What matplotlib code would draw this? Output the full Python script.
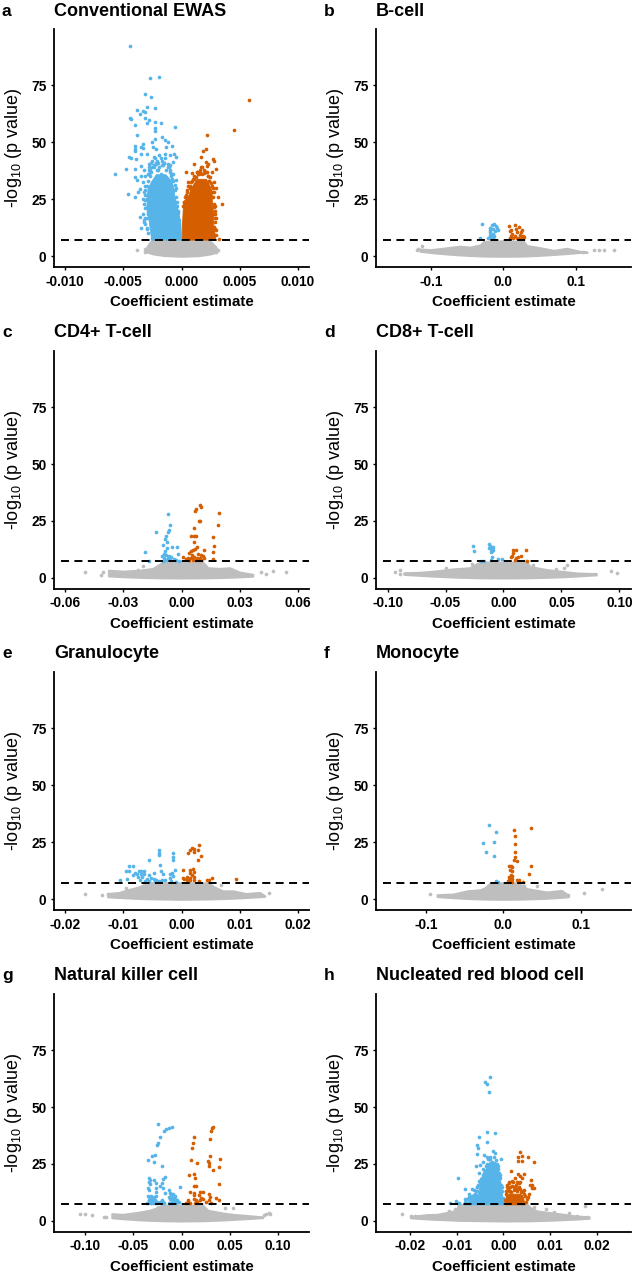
# volcano plots, one per cell type
import matplotlib
matplotlib.use("Agg")
import matplotlib.pyplot as plt

plt.rcParams['font.family'] = ['Liberation Sans', 'DejaVu Sans']
plt.rcParams['mathtext.default'] = 'regular'

BLUE = "#56B4E9"
ORANGE = "#D55E00"
GREY = "#BEBEBE"
THRESHOLD = 7.3

y_ticks = [0, 25, 50, 75]

# ---- a: Conventional EWAS
a_ticks = [-0.010, -0.005, 0.000, 0.005, 0.010]
a_ticklabels = ["-0.010", "-0.005", "0.000", "0.005", "0.010"]
a_down_x = [-.0044,-.0027,-.0019,-.0031,-.0026,-.0038,-.0023,-.003,-.0033,-.0031,-.0036,-.0044,-.0043,-.0031,-.00275,-.004,-.003,-.0023,-.00175,-.00055,-.0023,-.0023,-.0038,-.0017,-.0023,
            -.004,-.004,-.00395,-.0033,-.0035,-.0033,-.0025,-.00246,-.0022,-.0014,-.0012,-.0008,-.0013,-.0014,-.0045,-.0043,-.0039,-.003,-.0035,-.0024,-.0019,-.001,-.00066,-.00046,-.00074,-.0012,-.001,-.0016,-.0022,-.00275,-.0035,-.0048,-.0057,-.004,-.004,-.0035,-.0032,-.0029,-.0038,-.0033,-.00074,-.001,-.00046,-.0006,-.00455,-.004,-.0036,-.0037,-.0031,-.0033,-.0036,-.0032,-.0035,-.003,-.003,-.0031,-.0029,-.0025,
            -.0026,-.0021,-.0018,-.0015,-.0028,-.0024,-.002,-.0011,-.0027,-.0018,-.0014,-.0009,-.0031,-.0030,-.0029,-.0031,-.0007,-.0005,-.0004,-.0003,
            -.0029,-.0030,-.0031,-.0032,-.0030,-.0029,-.0031,-.0032,-.0033,-.0030,-.0028,-.0031,-.0029,-.0030,-.0032,-.0031,-.0028,-.0027,-.0026,-.0025,-.0024,-.0022,-.0021,-.0019,-.0017,-.0015,-.0013,-.0012,-.0010,-.0009,-.0008,-.0007,-.0006,-.0005,-.0006,-.0004,-.0003,-.0002,-.0025,-.0023,-.0020,-.0017,-.0014,-.0028,-.0027]
a_down_y = [92.2,78,78.5,71,69.7,64.3,65,65.5,63.7,63.3,62.5,60.8,60.4,60.8,59.8,57.5,58.6,58.9,58.6,56.9,56.1,55,53.2,52.2,51.6,
            48.4,47.2,46.3,49.4,48,47.7,50,48,47.2,50.9,50.1,48.4,48,45,43.7,43,42.7,45,44.7,43.6,44.3,44.3,45,43.6,41.4,40.6,40,40,40.6,40.6,39.6,38.3,36.1,38.4,34.8,35.2,37.7,36.3,33.3,32.6,36.3,37.7,33.3,31.1,27.5,26,29.7,28.2,29,18.7,17.3,15,12.4,12.4,21.6,24.6,18.7,8.2,
            41,42,43,41,38,39,38,39,35,36,35,36,27,25,20,17,29,26,24,20,
            10,12,14,16,17,19,21,23,25,27,29,31,33,31,28,35,36,38,37,39,40,41,38,39,40,41,38,39,37,35,34,33,29,30,24,22,19,16,42,43,41,42,43,39,37]
a_up_x = [.00576,.0045,.0022,.0021,.00186,.00166,.0027,.0028,.0021,.0023,.0022,.00106,.003,.0004,.00155,.0026,.0009,.0019,.00126,.00246,.0006,.0008,.0028,.003,.0031,.00347,.0028,.0028,.0029,.003,.003,.0032,
          .0004,.0002,.0007,.0011,.0016,.0023,.0026,.0028,.0029,.0029,.0029,.0005,.0013,.0018,.0024,
          .0027,.0028,.0029,.0030,.0029,.0028,.0027,.0026,.0027,.0025,.0024,.0023,.0021,.0019,.0017,.0015,.0013,.0011,.0009,.0007,.0005,.0003,.0002,.0001,.0003,.0006,.0010,.0014,.0018,.0022]
a_up_y = [68.6,55.6,53.4,47.2,46.3,43.6,42.7,41.8,41.5,40.6,39.6,40.5,38.5,37.1,37.1,37,36.6,36.7,34.8,34.8,32.6,32.6,32.6,30,26,23,21.6,18.7,18.7,11.4,9.2,7.6,
          27,24,31,34,38,35,31,28,22,17,12,29,37,36,33,
          10,13,15,17,20,23,26,28,30,32,33,35,37,38,39,36,37,35,33,30,28,26,24,22,20,31,34,36,39,37]
a_ns_x = [-.0038,-.0031,-.0031,-.0026,.003,.003,.0031,.0029,-.0028]
a_ns_y = [2.9,3.4,1.9,5.8,3.4,1.9,2.6,4.2,4.6]
a_lens_x = [-.0031,-.0028,-.0026,-.0024,-.0015,0,.0015,.0022,.0026,.0030]
a_lens_top = [3,5.5,6.8,7.3,7.3,7.3,7.3,7.3,6,3.5]
a_lens_bot = [2,1.6,1.3,1,.35,0,.3,.8,1.2,1.8]
a_dcore_y = [7.3,15,22,26,30,33,36]
a_dcore_l = [-.0026,-.0028,-.0030,-.0030,-.0029,-.0026,-.0022]
a_dcore_r = [-.00003,-.0001,-.0004,-.0006,-.0007,-.00085,-.0014]
a_ucore_y = [7.3,15,20,24,27,30,34]
a_ucore_l = [.00003,.00005,.0001,.00015,.0006,.0008,.0013]
a_ucore_r = [.0029,.0027,.0027,.0026,.0026,.0025,.0021]

# ---- b: B-cell
b_ticks = [-0.1, 0.0, 0.1]
b_ticklabels = ["-0.1", "0.0", "0.1"]
b_down_x = [-.029,-.033,-.0128,-.016,-.011,-.018,-.009,-.0138,-.018,-.007,-.012,-.018,-.014,-.018,-.013,-.019,-.015,-.021,-.014]
b_down_y = [14.2,8,14.3,13.6,13.2,12.4,12.4,12,11.4,11.4,11,10.5,9.9,9.5,9.1,8.5,8.5,8,8]
b_up_x = [.0078,.016,.0216,.01,.0174,.025,.009,.019,.024,.0115,.023,.0266,.0106,.016,.0284,.009,.018,.013,.022,.025]
b_up_y = [13.5,13.9,12.7,11.7,12,11.7,11,10.8,10.5,9.9,9.5,9.1,9.1,8.8,8.5,8.2,8.2,8,8,8]
b_ns_x = [-.112,-.117,.124,.131,.1385,.152,.11,-.119]
b_ns_y = [4.7,3.2,2.6,2.6,2.9,2.9,2,2.6]
b_lens_x = [-.115,-.101,-.092,-.069,-.06,-.046,-.032,-.0275,0,.0275,.032,.046,.069,.087,.105,.115]
b_lens_top = [3.2,2.9,3.2,4.1,4.4,4,5,6.5,6.8,6.5,4.7,4,2.6,3.5,2.2,1.8]
b_lens_bot = [2.2,1.7,1.4,.8,.6,.35,.17,.12,0,.12,.17,.35,.8,1.2,1.7,1.8]

# ---- c: CD4+ T-cell
c_ticks = [-0.06, -0.03, 0.00, 0.03, 0.06]
c_ticklabels = ["-0.06", "-0.03", "0.00", "0.03", "0.06"]
c_down_x = [-.0072,-.006,-.013,-.0065,-.0072,-.0079,-.0084,-.0074,-.0098,-.005,-.0074,-.0024,-.0188,-.0084,-.0017,-.009,-.0079,-.0103,-.0062,-.0088,-.007,-.0052,-.0169,-.0096,-.0079,-.0059,-.0041,-.0028,-.0015]
c_down_y = [28.2,23.4,20.2,21.2,20.2,18.4,17,16,14.6,13.6,13.2,13.5,11.5,11.7,10.7,10.4,9.9,9.8,9.5,8.9,8.8,9.2,7.5,7.6,8,8,8.5,8,7.6]
c_up_x = [.0093,.01,.0076,.007,.0196,.0088,.0095,.019,.0064,.0048,.0065,.0074,.0162,.0065,.0167,.0079,.0072,.0059,.0115,.0048,.0165,.0041,.0086,.0101,.0055,.011,.0114,.0162,.0007,.0034,.005,.0067,.0081,.0093,.0103,.0024,.0041,.0059,.0076,.009]
c_up_y = [32.2,31.3,30.4,29.4,28.4,24.9,25,23.2,21.8,18.6,18.6,18.4,17.8,15.9,14.2,13.5,12.7,12.4,12.4,11.7,11.3,11,10.7,9.9,9.9,9.5,8.8,8.3,9.2,8.9,8.9,9.2,8.9,8.9,8,8.3,8,8,8,8]
c_ns_x = [-.0496,-.0418,-.0405,-.02,-.0225,.047,.054,.0437,.041]
c_ns_y = [2.6,1.5,2.6,5.1,3.7,3,2.5,1.6,2.5]
c_lens_x = [-.0377,-.03,-.0217,-.0148,-.0122,-.0096,0,.011,.0136,.0196,.0248,.03,.0368]
c_lens_top = [3.4,3,3.4,4.2,5.6,7,7,7,4.5,4.2,4.5,2.6,1.6]
c_lens_bot = [.9,.55,.3,.14,.1,.06,0,.07,.1,.2,.33,.5,.8]

# ---- d: CD8+ T-cell
d_ticks = [-0.10, -0.05, 0.00, 0.05, 0.10]
d_ticklabels = ["-0.10", "-0.05", "0.00", "0.05", "0.10"]
d_down_x = [-.0261,-.0256,-.0126,-.0115,-.0129,-.0092,-.0109,-.0098,-.0112,-.0089,-.0095,-.0109,-.0046,-.0009,-.0195,-.0172]
d_down_y = [14.2,11.8,14.9,14,13.2,13.6,12.9,11.8,11.3,12.1,9.2,8,8.2,8.2,7.6,7.6]
d_up_x = [.0195,.008,.0109,.0086,.0149,.0069,.0121,.0106,.01,.0204,.0072]
d_up_y = [12.4,12.3,12.3,11.1,9.6,9,9,8.8,7.7,7.6,9.8]
d_ns_x = [-.0937,-.0897,-.0897,-.05,-.027,.0253,.055,.052,.045,.0928,.0977,.079]
d_ns_y = [2.6,3.4,1.6,4.5,6,5.8,5.6,4.4,3.8,2.9,2,1.9]
d_lens_x = [-.086,-.072,-.06,-.043,-.029,-.023,-.02,0,.02,.023,.037,.049,.063,.08]
d_lens_top = [2.3,2.5,3,4,4.5,6.3,7,7,7,5,3.7,3,2.2,1.9]
d_lens_bot = [1.6,1.15,.8,.4,.2,.12,.09,0,.09,.12,.3,.5,.85,1.4]

# ---- e: Granulocyte
e_ticks = [-0.02, -0.01, 0.00, 0.01, 0.02]
e_ticklabels = ["-0.02", "-0.01", "0.00", "0.01", "0.02"]
e_down_x = [-.0039,-.0039,-.0015,-.0039,-.0055,-.0015,-.0015,-.0037,-.0091,-.0084,-.0095,-.0091,-.0073,-.0069,-.0064,-.008,-.0076,-.0069,-.0065,-.0055,-.0048,-.0035,-.0032,-.0012,-.0016,-.0019,-.0015,-.002,-.0084,-.0075,-.0067,-.006,-.0052,-.0048,-.0043,-.0033,-.0028,-.0106,-.0094,-.0072,-.0062,-.0055,-.0046,-.0038,-.0018,-.0009]
e_down_y = [21.5,20.5,20.2,19.3,17.4,18.6,17.3,15.2,14.6,14.5,12.6,12.4,12.3,12.4,12.4,11.7,11,11.2,11.2,10.5,11.5,12.3,11.3,13,11.7,11,10.2,9.5,10.5,9.8,9.8,9,9.5,9,8.6,8.3,8.6,8.3,8.8,8.3,7.9,7.9,7.9,7.9,7.9,7.6]
e_up_x = [.003,.0018,.0015,.0021,.0029,.0011,.0022,.0033,.0029,.0002,.0014,.0019,.0015,.0022,.0018,.0003,.0009,.0015,.0021,.0009,.0015,.0022,.003,.0044,.0052,.0048,.0094,.0005]
e_up_y = [23.8,22.7,21.5,21.9,21.8,20.5,20.8,19.2,17.3,12.7,13,13.2,11.6,12,10.5,9.4,9.8,9.5,9.8,8.6,8.3,8.6,8,8.3,9.5,8.6,8.9,8.9]
e_ns_x = [-.0165,-.0137,-.0127,-.0095,.015,.0138,.0068,.0054,.009]
e_ns_y = [2.3,1.9,2.3,5,2.6,2,6.1,4.7,3.1]
e_lens_x = [-.0127,-.0107,-.0092,-.0078,-.0067,-.0061,0,.0048,.0054,.0071,.0088,.0111,.0134,.0143]
e_lens_top = [2.5,3,4.2,5.1,6.1,7.3,7.3,7.2,5.7,3.7,3.7,2.5,3,1.5]
e_lens_bot = [1.1,.8,.6,.42,.3,.25,0,.15,.2,.33,.5,.8,1.15,1.3]

# ---- f: Monocyte
f_ticks = [-0.1, 0.0, 0.1]
f_ticklabels = ["-0.1", "0.0", "0.1"]
f_down_x = [-.0194,-.0095,-.0259,-.0125,-.0224,-.0129,-.0103,-.0073]
f_down_y = [32.7,29.7,24.6,25.1,20.8,19,8,7.5]
f_up_x = [.0353,.0134,.0155,.0147,.0151,.0147,.0138,.0177,.0065,.0099,.0116,.0353,.0086,.0108,.0328,.0095,.0112,.0065,.0086,.0112,.0065,.0095,.0172,.0203,.0052,.0108,.0246]
f_up_y = [31.3,30.3,27.6,24.3,20.6,18.6,17.4,16.7,14.5,14.5,14.3,14.5,12.7,12.4,11.3,10.5,10,9.8,9.4,8.9,8.3,8.3,8.3,8.6,7.9,7.7,7.7]
f_ns_x = [-.0953,.1043,.1272,.044,.0267,.083]
f_ns_y = [2.5,2.8,4.7,6,5.7,1.8]
f_lens_x = [-.086,-.065,-.047,-.03,-.024,-.019,-.017,0,.017,.026,.03,.056,.075,.084]
f_lens_top = [2,2.3,3.7,4.2,5.1,6.6,7.2,7.2,7.2,5.7,4.7,3.2,3.9,1.8]
f_lens_bot = [1.2,.7,.35,.15,.1,.06,.05,0,.05,.1,.15,.45,.85,1.1]

# ---- g: Natural killer cell
g_ticks = [-0.10, -0.05, 0.00, 0.05, 0.10]
g_ticklabels = ["-0.10", "-0.05", "0.00", "0.05", "0.10"]
g_down_x = [-.0244,-.0096,-.0124,-.0158,-.0182,-.0224,-.0238,-.0255,-.0275,-.0306,-.0344,-.0289,-.0203,-.0334,-.0169,-.0186,-.0323,-.0289,-.0337,-.0262,-.0203,-.022,-.0323,-.0017,-.0348,-.0262,-.0193,-.0337,-.0262,-.0124,-.0114,-.0175,-.0083,
            -.036,-.034,-.033,-.032,-.031,-.03,-.029,-.028,-.027,-.026,-.025,-.035,-.033,-.031,-.029,-.027,-.034,-.032,-.03,-.028,-.026,-.022,-.02,-.018,-.021,-.019,
            -.013,-.012,-.011,-.01,-.009,-.008,-.007,-.006,-.013,-.011,-.009,-.007,-.012,-.01,-.008,-.005,-.003]
g_down_y = [42.7,41.4,40.9,40.4,39.5,36.7,34.2,33.3,28.8,28.4,26.6,25.9,24.1,19,19.4,18.6,18.1,18.1,17.1,16.8,16.5,15.2,16.4,14.9,14.5,14.3,14.6,13.5,12.7,13.5,12.3,12.3,11.7,
            8,9,10,8.5,11,9.5,8,10.5,9,11,8.5,11,10,8,9.8,8,9,8,9,8.5,8,8.5,9,8,8,8.5,
            8,9.5,11,8,10,8.5,11,8,10.5,12,9,9.5,8,8.5,8,9,8.5]
g_up_x = [.0327,.0313,.0303,.0124,.0296,.012,.0107,.0293,.0096,.0399,.0272,.0289,.0158,.0282,.0392,.0327,.0127,.0076,.0138,.0386,.0124,.0145,.0083,.0124,.0186,.0220,.0289,.0134,.0179,.0203,.0296,.0358,.0392,.0065,.0127,.0220,.0282,.0151,.0186,.005,.007,.009,.014,.016,.025,.03]
g_up_y = [41.2,40.9,39.5,36.7,36.1,34.2,32.2,28.7,26.8,27.3,26.3,25.6,25.4,24,23.8,22.5,20.5,20,19,16.1,15.5,15.5,12.7,12.4,12.6,12.7,12,11.3,11.3,10.2,10.5,10,9,9,9.7,9.7,9,9,9,8,8.5,8,8,8.2,8.2,8]
g_ns_x = [-.105,-.1,-.092,-.08,-.078,-.024,.0445,.053,.0875,.0916,.085,.09]
g_ns_y = [3,3,2.6,1.8,1.8,6,5.8,5.5,2.9,3.2,2.5,3.4]
g_lens_x = [-.072,-.0606,-.0434,-.033,-.026,-.0227,-.0193,0,.022,.0272,.0427,.053,.07,.084]
g_lens_top = [3.2,2.9,3.9,4.7,5.7,6.4,6.9,7,6.9,4.7,3.5,2.9,2.3,1.8]
g_lens_bot = [1.4,1,.5,.3,.2,.15,.1,0,.12,.2,.45,.7,1.1,1.5]

# ---- h: Nucleated red blood cell
h_ticks = [-0.02, -0.01, 0.00, 0.01, 0.02]
h_ticklabels = ["-0.02", "-0.01", "0.00", "0.01", "0.02"]
h_down_x = [-.0029,-.004,-.0035,-.0031,-.0053,-.0036,-.0019,-.0057,-.0035,-.0054,-.0022,-.0019,-.0057,-.0042,-.0035,-.0006,-.0016,-.0059,-.005,-.0097,-.0083,-.0067,-.0064,-.0057,-.0075,-.0115,-.0103,-.0096,-.0082,-.0075,-.0064,
            -.0045,-.0043,-.0041,-.0047,-.0052,-.0055,-.006,-.0065,-.0034,-.003,-.0028,-.0024,-.0012,-.001,-.0008,-.0005,-.0003,-.0052,-.0048,
            -.0082,-.0078,-.0072,-.0068,-.0062,-.0058,-.0056,-.005,-.0048,-.0044,-.004,-.0038,-.0036,-.0032,-.002,-.0015,-.0011,-.0007,-.0004,-.0002,-.0001]
h_down_y = [63,61,60,56.7,37,38.9,38.7,33.2,34.5,32.2,30.7,30,29.5,28.8,28,27.2,26.6,24.3,24.5,18.7,14,14.2,13.5,15,12,8,8.6,8,9.7,10.5,11.2,
            26,23,21,19,17.5,16,13,11,27,28,27,26,23,21,19,16,13,21,18,
            8.5,9.5,10,11,12,13,15,17,18.5,20,22,24,25,27,28,25,24,20,15,10,8.5]
h_up_x = [.0035,.0031,.004,.0052,.0065,.0039,.0031,.0017,.0031,.0045,.0035,.0024,.004,.0011,.0018,.0029,.0036,.006,.0062,.0056,.0062,.0065,.0015,.0022,.0029,.0036,.0044,.0054,.005,.0044,.004,.0005,.0008,.0012,
          .0003,.0006,.001,.0014,.0018,.0022,.0026,.003,.0034,.0038,.0042,.0046,.0007,.0011,.0016,.002,.0025,.0028,.0033,.0037,.0041,.0048,.0052]
h_up_y = [30.4,28,28.4,28,25.7,26.3,26.3,21.9,20.8,20.5,19.6,18.9,19,17,17.5,17,17,17.8,16,15.9,14.6,14.4,14.9,14.9,14.2,14.2,13.5,11.7,9.8,11.9,10.2,12,15,16.5,
          9,13,14,13,15.5,13.5,16,14,15,12.5,13,11,16,13,12.5,17,14.5,13,16.5,11,13,8.5,10.5]
h_ns_x = [-.0219,-.0199,-.019,-.0179,-.0161,-.0147,-.0105,-.0118,.0176,.018,.0065,.0092,.0079,.0108,.014,.0158]
h_ns_y = [3.2,2,2.2,1.8,2,2,5.1,4.4,6.4,1.8,6.1,5.1,3.2,3.9,3.5,2]
h_lens_x = [-.02,-.0164,-.0143,-.0118,-.01,-.0098,-.0092,0,.0051,.0058,.0072,.0108,.0151,.0184]
h_lens_top = [2,2.8,2.9,3.9,4.7,6.9,7.3,7.3,7.3,5.8,4.4,3.5,2.3,1.8]
h_lens_bot = [1.4,.9,.7,.5,.32,.3,.28,0,.08,.1,.17,.4,.8,1.2]
h_dcore_y = [7.3,9,12,15,20,24,26]
h_dcore_l = [-.0085,-.0075,-.0055,-.0052,-.0046,-.0036,-.0030]
h_dcore_r = [-.0002,-.0002,-.0003,-.0005,-.0009,-.0013,-.0018]
h_ucore_y = [7.3,10,12]
h_ucore_l = [.0003,.0004,.0006]
h_ucore_r = [.0046,.0042,.0036]

panels = [
    dict(letter="a", title="Conventional EWAS", left=54, bottom=267, lim=.01094, ticks=a_ticks, labels=a_ticklabels,
         dx=a_down_x, dy=a_down_y, ux=a_up_x, uy=a_up_y, nx=a_ns_x, ny=a_ns_y, lx=a_lens_x, lt=a_lens_top, lb=a_lens_bot,
         dcore=(a_dcore_y, a_dcore_l, a_dcore_r), ucore=(a_ucore_y, a_ucore_l, a_ucore_r)),
    dict(letter="b", title="B-cell", left=376, bottom=267, lim=.1754, ticks=b_ticks, labels=b_ticklabels,
         dx=b_down_x, dy=b_down_y, ux=b_up_x, uy=b_up_y, nx=b_ns_x, ny=b_ns_y, lx=b_lens_x, lt=b_lens_top, lb=b_lens_bot),
    dict(letter="c", title="CD4+ T-cell", left=54, bottom=588.7, lim=.0658, ticks=c_ticks, labels=c_ticklabels,
         dx=c_down_x, dy=c_down_y, ux=c_up_x, uy=c_up_y, nx=c_ns_x, ny=c_ns_y, lx=c_lens_x, lt=c_lens_top, lb=c_lens_bot),
    dict(letter="d", title="CD8+ T-cell", left=376, bottom=588.7, lim=.11, ticks=d_ticks, labels=d_ticklabels,
         dx=d_down_x, dy=d_down_y, ux=d_up_x, uy=d_up_y, nx=d_ns_x, ny=d_ns_y, lx=d_lens_x, lt=d_lens_top, lb=d_lens_bot),
    dict(letter="e", title="Granulocyte", left=54, bottom=910, lim=.0219, ticks=e_ticks, labels=e_ticklabels,
         dx=e_down_x, dy=e_down_y, ux=e_up_x, uy=e_up_y, nx=e_ns_x, ny=e_ns_y, lx=e_lens_x, lt=e_lens_top, lb=e_lens_bot),
    dict(letter="f", title="Monocyte", left=376, bottom=910, lim=.165, ticks=f_ticks, labels=f_ticklabels,
         dx=f_down_x, dy=f_down_y, ux=f_up_x, uy=f_up_y, nx=f_ns_x, ny=f_ns_y, lx=f_lens_x, lt=f_lens_top, lb=f_lens_bot),
    dict(letter="g", title="Natural killer cell", left=54, bottom=1231.7, lim=.1317, ticks=g_ticks, labels=g_ticklabels,
         dx=g_down_x, dy=g_down_y, ux=g_up_x, uy=g_up_y, nx=g_ns_x, ny=g_ns_y, lx=g_lens_x, lt=g_lens_top, lb=g_lens_bot),
    dict(letter="h", title="Nucleated red blood cell", left=376, bottom=1231.7, lim=.0274, ticks=h_ticks, labels=h_ticklabels,
         dx=h_down_x, dy=h_down_y, ux=h_up_x, uy=h_up_y, nx=h_ns_x, ny=h_ns_y, lx=h_lens_x, lt=h_lens_top, lb=h_lens_bot,
         dcore=(h_dcore_y, h_dcore_l, h_dcore_r), ucore=(h_ucore_y, h_ucore_l, h_ucore_r)),
]

W, H = 633, 1274
fig = plt.figure(figsize=(W/100, H/100), dpi=100)

for p in panels:
    ax = fig.add_axes([p["left"]/W, 1 - p["bottom"]/H, 255/W, 238/H])
    ax.set_xlim(-p["lim"], p["lim"])
    ax.set_ylim(-4.7, 99.7)
    ax.set_xticks(p["ticks"])
    ax.set_xticklabels(p["labels"])
    ax.set_yticks(y_ticks)
    for side in ["top", "right"]:
        ax.spines[side].set_visible(False)
    for side in ["left", "bottom"]:
        ax.spines[side].set_linewidth(1.3)
    ax.tick_params(length=2.5, width=1.0, pad=3, labelsize=9.9)
    for t in ax.get_xticklabels() + ax.get_yticklabels():
        t.set_fontweight("bold")
    ax.set_xlabel("Coefficient estimate", fontweight="bold", fontsize=10.9, labelpad=4.5)
    ax.set_ylabel(r"-log$_{10}$ (p value)", fontsize=13, labelpad=5)

    # dense body of the cloud, outline
    ax.fill_between(p["lx"], p["lb"], p["lt"], color=GREY, lw=1.5, zorder=1)
    ax.scatter(p["nx"], p["ny"], s=7, color=GREY, lw=0, zorder=1)
    if "dcore" in p:
        ax.fill_betweenx(p["dcore"][0], p["dcore"][1], p["dcore"][2], color=BLUE, lw=0.6, zorder=2)
        ax.fill_betweenx(p["ucore"][0], p["ucore"][1], p["ucore"][2], color=ORANGE, lw=0.6, zorder=2)
    ax.scatter(p["dx"], p["dy"], s=7, color=BLUE, lw=0, zorder=2)
    ax.scatter(p["ux"], p["uy"], s=7, color=ORANGE, lw=0, zorder=2)
    ax.axhline(THRESHOLD, xmin=0.027, color="black", lw=1.4, dashes=(4.1, 2.8), zorder=3)

    title_y = 1 - (p["bottom"] - 256)/H
    fig.text(p["left"]/W, title_y, p["title"], fontweight="bold", fontsize=13, va="center", ha="left")
    fig.text((p["left"] - 52)/W, title_y, p["letter"], fontweight="bold", fontsize=12.5, va="center", ha="left")

fig.savefig("out.png", dpi=100)
